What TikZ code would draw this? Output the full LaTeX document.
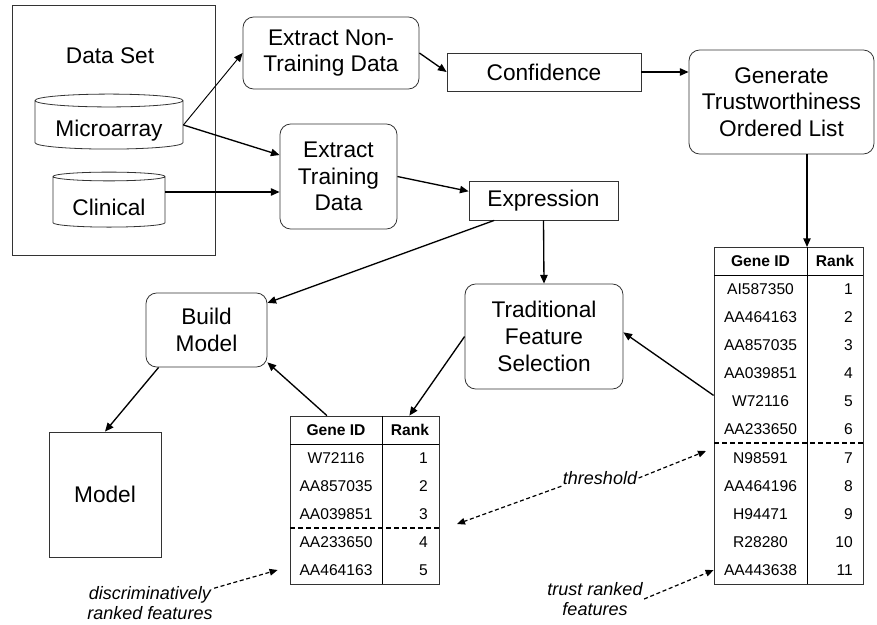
\documentclass[tikz,border=0pt]{standalone}
\usepackage{fontspec}
\setmainfont{Liberation Sans}
\usetikzlibrary{shapes.geometric,arrows.meta,calc}

\begin{document}
\begin{tikzpicture}[x=0.75pt,y=-0.75pt,
 font=\fontsize{17}{20}\selectfont,
 box/.style={draw=black!80,line width=0.6pt,rounded corners=8pt,align=center,inner sep=0pt},
 plain/.style={draw=black!80,line width=0.6pt,align=center,inner sep=0pt},
 db/.style={draw=black!80,line width=0.6pt,cylinder,shape border rotate=90,aspect=0.12,inner sep=0pt,text height=21pt},
 ar/.style={-{Triangle[length=6.5pt,width=5.5pt]},line width=1pt},
 thinar/.style={-{Triangle[length=6.5pt,width=5.5pt]},line width=0.7pt},
 note/.style={-{Triangle[length=6pt,width=5pt]},line width=0.9pt,dash pattern=on 3pt off 2pt},
 lab/.style={font=\fontsize{13.5}{15}\selectfont\itshape,align=center,inner sep=1pt},
 cell/.style={font=\fontsize{11.7}{13}\selectfont,inner sep=0pt},
 head/.style={cell,font=\fontsize{11.7}{13}\selectfont\bfseries},
 cut/.style={line width=1.2pt,dash pattern=on 4pt off 2pt}]
\useasboundingbox (0,0) rectangle (877,624);
% data set
\node[plain,minimum width=152.25pt,minimum height=187.5pt] (ds) at (113.5,130) {};
\node (dst) at (110,56) {Data Set};
\node[db,minimum width=111pt,minimum height=41.25pt] (mic) at (109,125) {Microarray};
\node[db,minimum width=84pt,minimum height=41.25pt] (cli) at (109,202) {Clinical};
% process boxes
\node[box,minimum width=132pt,minimum height=54pt] (ent) at (331,53) {Extract Non-\\Training Data};
\node[plain,minimum width=145.5pt,minimum height=28.5pt] (conf) at (544,72) {Confidence};
\node[box,minimum width=87.75pt,minimum height=78.75pt] (etd) at (338.5,176.5) {Extract\\Training\\Data};
\node[plain,minimum width=111.75pt,minimum height=29.25pt] (expr) at (543.5,200.5) {Expression};
\node[box,minimum width=138.75pt,minimum height=78pt] (gen) at (781.5,102) {Generate\\Trustworthiness\\Ordered List};
\node[box,minimum width=118.5pt,minimum height=78.75pt] (tfs) at (544,336.5) {Traditional\\Feature\\Selection};
\node[box,minimum width=90.75pt,minimum height=55.5pt] (bm) at (206.5,330) {Build\\Model};
\node[plain,minimum width=84pt,minimum height=93.75pt] (mod) at (105,494.5) {Model};
% trust ranked table
\node[plain,minimum width=111.75pt,minimum height=252.75pt] (rtab) at (788.5,415.5) {};
\coordinate (rsep) at (807,247);
\coordinate (rcut) at (714,443);
\draw[line width=0.7pt] (714,275) -- (863,275);
\draw[line width=0.7pt] (rsep) -- (807,584);
\draw[cut] (rcut) -- (863,443);
\node[head] (rgh) at (760.5,261) {Gene ID};
\node[head] (rrh) at (835,261) {Rank};
\foreach \g [count=\i] in {AI587350,AA464163,AA857035,AA039851,W72116,AA233650,N98591,AA464196,H94471,R28280,AA443638}{
  \node[cell] (rg\i) at (760.5,{275+(\i-0.5)*28.1}) {\g};
  \node[cell,anchor=east] (rr\i) at (853,{275+(\i-0.5)*28.1}) {\i};
}
% discriminatively ranked table
\node[plain,minimum width=111.75pt,minimum height=126pt] (ltab) at (364.5,500) {};
\coordinate (lcut) at (439,528);
\draw[line width=0.7pt] (290,444) -- (439,444);
\draw[line width=0.7pt] (382,416) -- (382,584);
\draw[cut] (290,528) -- (lcut);
\node[head] (lgh) at (336,430) {Gene ID};
\node[head] (lrh) at (410,430) {Rank};
\foreach \g [count=\i] in {W72116,AA857035,AA039851,AA233650,AA464163}{
  \node[cell] (lg\i) at (336,{444+(\i-0.5)*28}) {\g};
  \node[cell,anchor=east] (lr\i) at (428,{444+(\i-0.5)*28}) {\i};
}
% notes
\node[lab] (dl) at (150,603) {discriminatively\\ranked features};
\node[lab] (th) at (600,478) {threshold};
\node[lab] (tr) at (595,599) {trust ranked\\features};
% connectors
\draw[thinar] (mic.east) -- (ent.west);
\draw[ar] (mic.east) -- (etd.160);
\draw[ar] ($(cli.east)+(0,-10)$) -- ($(etd.west |- cli.east)+(0,-10)$);
\draw[ar] (ent.east) -- (conf.west);
\draw[ar] (conf.east) -- (gen.west |- conf.east);
\draw[ar] (etd.east) -- (expr.173);
\draw[ar] (expr.202) -- (bm.24);
\draw[ar] (expr.south) -- (tfs.north);
\draw[ar] (gen.south -| rsep) -- (rsep);
\draw[ar] (rtab.165) -- (tfs.3);
\draw[ar] (tfs.west) -- (ltab.62);
\draw[ar] (ltab.114) -- (bm.-28);
\draw[ar] (bm.218) -- (mod.north);
\draw[note] (dl.13) -- ($(ltab.west |- lg5)+(-12,0)$);
\draw[note] (th.east) -- ($(rcut)+(-8,8)$);
\draw[note] (th.south west) -- ($(lcut)+(18,-4)$);
\draw[note] (tr.east) -- (rtab.west |- rg11);
\end{tikzpicture}
\end{document}
